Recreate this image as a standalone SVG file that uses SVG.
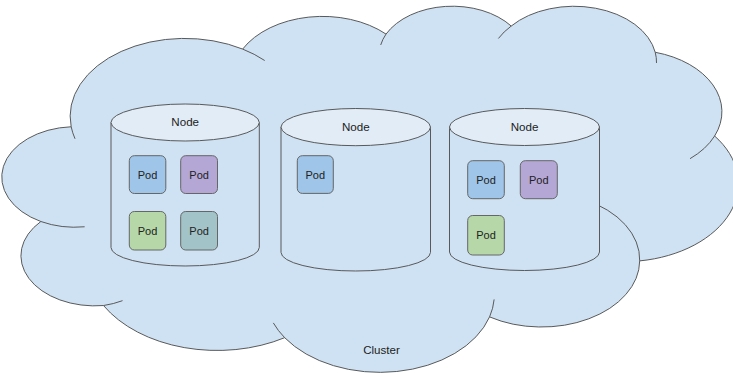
<svg xmlns="http://www.w3.org/2000/svg" width="733" height="373" viewBox="0 0 733 373">
<style>
.cloud{fill:#cfe2f3;stroke:#595959;stroke-width:1}
.tail{fill:none;stroke:#595959;stroke-width:1}
.body{fill:#cfe2f3;stroke:#595959;stroke-width:1}
.lid{fill:#e1ecf7;stroke:#595959;stroke-width:1}
.pod{stroke:#666666;stroke-width:1}
.blue{fill:#9fc5e8}.purple{fill:#b4a7d6}.green{fill:#b6d7a8}.teal{fill:#a2c4c9}
text{font-family:"Liberation Sans",Arial,sans-serif;font-size:11px;fill:#222222;text-anchor:middle}
.big{font-size:11.6px}
</style>
<rect width="733" height="373" fill="#ffffff"/>
<g id="cluster">
<path class="cloud" d="M 71.18 126.75 A 114.59 77.86 0 0 1 242.64 49.07 A 90.49 61.57 0 0 1 386.04 34.09 A 74.07 50.37 0 0 1 511.23 26.04 A 82.41 55.87 0 0 1 655.21 52.27 A 90.49 61.62 0 0 1 714.61 136.00 A 114.96 78.11 0 0 1 639.69 260.89 A 98.16 66.65 0 0 1 489.57 316.90 A 114.57 78.07 0 0 1 284.68 337.68 A 130.99 89.32 0 0 1 103.51 305.54 A 73.98 50.14 0 0 1 40.85 221.50 A 73.73 50.37 0 0 1 71.18 126.75 Z"/>
<path class="tail" d="M 75.03 138.77 A 114.59 77.86 0 0 1 71.18 126.75 M 242.64 49.07 A 114.59 77.86 0 0 1 264.70 60.50 M 380.69 44.99 A 74.07 50.37 0 0 1 386.04 34.09 M 498.40 38.48 A 82.41 55.87 0 0 1 511.23 26.04 M 655.21 52.27 A 82.41 55.87 0 0 1 656.51 62.97 M 714.61 136.00 A 90.49 61.62 0 0 1 690.02 158.68 M 584.10 199.47 A 98.16 66.65 0 0 1 639.69 260.89 M 494.14 299.42 A 114.57 78.07 0 0 1 489.57 316.90 M 284.68 337.68 A 114.57 78.07 0 0 1 273.33 322.92 M 122.55 300.67 A 73.98 50.14 0 0 1 103.51 305.54 M 84.63 226.78 A 73.73 50.37 0 0 1 40.85 221.50"/>
<text class="big" x="381.5" y="354.2">Cluster</text>
</g>
<g id="node1">
<path class="body" d="M 111 122.5 L 111 247.5 A 74.15 18.5 0 0 0 259.3 247.5 L 259.3 122.5 Z"/>
<ellipse class="lid" cx="185.15" cy="122.5" rx="74.15" ry="18.5"/>
<text class="big" x="185.2" y="125.9">Node</text>
</g>
<g id="node2">
<path class="body" d="M 281 127.1 L 281 252.4 A 74.75 18.6 0 0 0 430.5 252.4 L 430.5 127.1 Z"/>
<ellipse class="lid" cx="355.75" cy="127.1" rx="74.75" ry="18.6"/>
<text class="big" x="355.8" y="130.5">Node</text>
</g>
<g id="node3">
<path class="body" d="M 449.5 127 L 449.5 252 A 75 18.5 0 0 0 599.5 252 L 599.5 127 Z"/>
<ellipse class="lid" cx="524.5" cy="127" rx="75" ry="18.5"/>
<text class="big" x="524.5" y="130.9">Node</text>
</g>
<g id="pod1"><rect class="pod blue" x="129.3" y="155.7" width="36.5" height="37.8" rx="5"/><text x="147.5" y="178.6">Pod</text></g>
<g id="pod2"><rect class="pod purple" x="180.7" y="155.7" width="36.8" height="37.8" rx="5"/><text x="199.1" y="178.6">Pod</text></g>
<g id="pod3"><rect class="pod green" x="129.3" y="211.5" width="36.5" height="38.5" rx="5"/><text x="147.5" y="234.7">Pod</text></g>
<g id="pod4"><rect class="pod teal" x="180.7" y="211.5" width="36.8" height="38.5" rx="5"/><text x="199.1" y="234.7">Pod</text></g>
<g id="pod5"><rect class="pod blue" x="297.3" y="155.7" width="36" height="37.7" rx="5"/><text x="315.3" y="178.6">Pod</text></g>
<g id="pod6"><rect class="pod blue" x="467.7" y="160.7" width="36.6" height="38" rx="5"/><text x="486" y="183.7">Pod</text></g>
<g id="pod7"><rect class="pod purple" x="520.3" y="160.7" width="37" height="38" rx="5"/><text x="538.8" y="183.7">Pod</text></g>
<g id="pod8"><rect class="pod green" x="467.7" y="215.5" width="36.6" height="39.5" rx="5"/><text x="486" y="239.2">Pod</text></g>
<g id="connectors"></g>
</svg>
